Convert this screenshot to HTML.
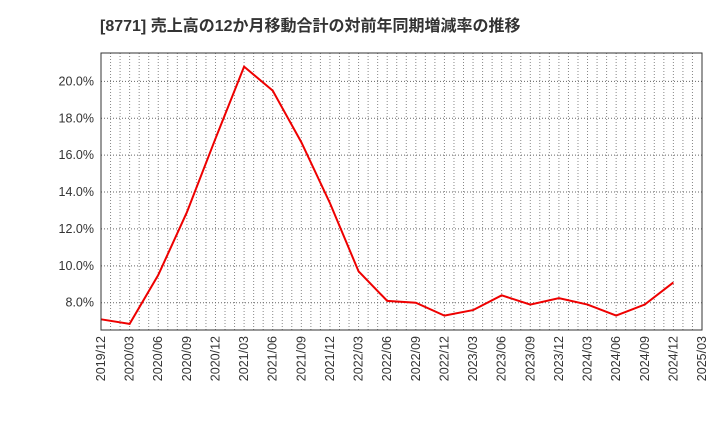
<!DOCTYPE html>
<html><head><meta charset="utf-8"><style>
body{margin:0;background:#fff;}
svg text{font-family:"Liberation Sans","Noto Sans CJK JP",sans-serif;}
</style></head><body>
<svg id="chart" width="720" height="440">
<text x="100" y="31" font-size="16" font-weight="bold" fill="#333">[8771]  売上高の12か月移動合計の対前年同期増減率の推移</text>
<g id="grid"></g>
<g id="axes"></g>
<polyline id="line" fill="none" stroke="#ee0000" stroke-width="2"/>
<rect x="101" y="53" width="601" height="277" fill="none" stroke="#333" stroke-width="1"/>
</svg>
<script>
const categories=["2019/12","2020/03","2020/06","2020/09","2020/12","2021/03","2021/06","2021/09","2021/12","2022/03","2022/06","2022/09","2022/12","2023/03","2023/06","2023/09","2023/12","2024/03","2024/06","2024/09","2024/12"];
const values=[7.1,6.85,9.5,12.9,16.9,20.8,19.5,16.7,13.4,9.7,8.1,8.0,7.3,7.6,8.4,7.9,8.25,7.9,7.3,7.9,9.1];
const xTickLabels=["2019/12","2020/03","2020/06","2020/09","2020/12","2021/03","2021/06","2021/09","2021/12","2022/03","2022/06","2022/09","2022/12","2023/03","2023/06","2023/09","2023/12","2024/03","2024/06","2024/09","2024/12","2025/03"];
const yTicks=[8,10,12,14,16,18,20];
const NS="http://www.w3.org/2000/svg";
const L=101,R=702,T=53,B=330,yMin=6.52,yMax=21.54;
const x=i=>L+(R-L)*i/(xTickLabels.length-1);
const y=v=>B-(v-yMin)/(yMax-yMin)*(B-T);
const grid=document.getElementById('grid'),axes=document.getElementById('axes');
function mk(t,a,p){const e=document.createElementNS(NS,t);for(const k in a)e.setAttribute(k,a[k]);p.appendChild(e);return e;}
const months=(xTickLabels.length-1)*3;
for(let m=1;m<months;m++){
 const xx=L+(R-L)*m/months;
 const e=mk('line',{x1:xx,x2:xx,y1:T,y2:B,stroke:'#888','stroke-width':1,'stroke-dasharray':'1,2'},grid);
 
 
}
yTicks.forEach(v=>{
 const e=mk('line',{x1:L,x2:R,y1:y(v),y2:y(v),stroke:'#666','stroke-width':1,'stroke-dasharray':'1,2'},grid);
 
 
 const t=mk('text',{x:L-7,y:y(v)+4,'text-anchor':'end','font-size':12.5,fill:'#333'},axes);
 t.textContent=v.toFixed(1)+'%';
 
 
});
xTickLabels.forEach((s,i)=>{
 const t=mk('text',{transform:`translate(${x(i)+4},336) rotate(-90)`,'text-anchor':'end','font-size':12.5,fill:'#333'},axes);
 t.textContent=s;
 
 
});
document.getElementById('line').setAttribute('points',values.map((v,i)=>x(i)+','+y(v)).join(' '));
</script>
</body></html>
